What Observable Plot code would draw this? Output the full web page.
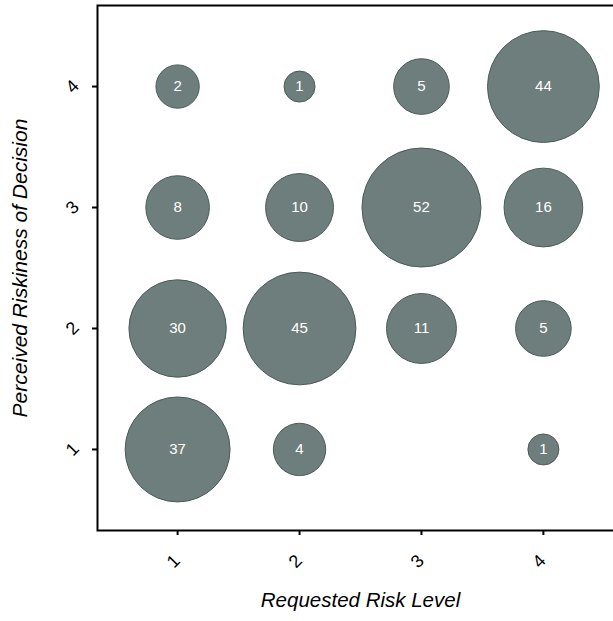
<!DOCTYPE html>
<html>
<head>
<meta charset="utf-8">
<script src="https://cdn.jsdelivr.net/npm/d3@7"></script>
<script src="https://cdn.jsdelivr.net/npm/@observablehq/plot@0.6"></script>
<style>
  html, body { margin: 0; padding: 0; background: #fff; overflow: hidden; }
  #chart svg { display: block; max-width: none !important; height: 621px !important; }
</style>
</head>
<body>
<div id="chart"></div>
<script>
// Data
const requestedLevels = [1, 2, 3, 4];
const perceivedLevels = [1, 2, 3, 4];
// counts per perceived level, ordered by requested level 1..4 (null = no observations)
const countsPerceived1 = [37, 4, null, 1];
const countsPerceived2 = [30, 45, 11, 5];
const countsPerceived3 = [8, 10, 52, 16];
const countsPerceived4 = [2, 1, 5, 44];
const xTitle = "Requested Risk Level";
const yTitle = "Perceived Riskiness of Decision";

const rows = [countsPerceived1, countsPerceived2, countsPerceived3, countsPerceived4];
const table = [];
rows.forEach((row, j) => row.forEach((n, i) => {
  if (n != null) table.push({requested: requestedLevels[i], perceived: perceivedLevels[j], n});
}));
const nMin = d3.min(table, d => d.n), nMax = d3.max(table, d => d.n);

const font = "'Liberation Sans', Arial, sans-serif";

const chart = Plot.plot({
  width: 625,
  height: 621,
  marginLeft: 97,
  marginRight: 2,
  marginTop: 5,
  marginBottom: 91,
  style: {fontFamily: font, background: "#fff"},
  x: {domain: [0.343, 4.657], axis: null},
  y: {domain: [0.33, 4.67], axis: null},
  r: {type: "sqrt", domain: [0, nMax - nMin], range: [15.5, 59.5]},
  marks: [
    Plot.dot(table, {
      x: "requested", y: "perceived", r: d => d.n - nMin,
      fill: "#6e7e7c", stroke: "#4b5b59", strokeWidth: 1
    }),
    Plot.text(table, {
      x: "requested", y: "perceived", text: d => String(d.n),
      fill: "white", fontSize: 15
    }),
    Plot.axisX({ticks: requestedLevels, tickSize: 5, text: null, label: null, stroke: "black", strokeWidth: 2}),
    Plot.axisY({ticks: perceivedLevels, tickSize: 5, text: null, label: null, stroke: "black", strokeWidth: 2}),
    Plot.text(requestedLevels, {x: d => d, frameAnchor: "bottom", dy: 35, rotate: -45, textAnchor: "middle", text: d => String(d), fontSize: 18, fill: "black"}),
    Plot.text(perceivedLevels, {y: d => d, frameAnchor: "left", dx: -25, rotate: -45, textAnchor: "middle", text: d => String(d), fontSize: 18, fill: "black"}),
    Plot.frame({stroke: "black", strokeWidth: 2}),
    Plot.text([xTitle], {frameAnchor: "bottom", dy: 76, textAnchor: "middle", text: d => d, fontSize: 20.5, fontStyle: "italic", fill: "black"}),
    Plot.text([yTitle], {frameAnchor: "left", dx: -77, rotate: -90, textAnchor: "middle", text: d => d, fontSize: 21, fontStyle: "italic", fill: "black"})
  ]
});
document.getElementById("chart").appendChild(chart);
</script>
</body>
</html>
